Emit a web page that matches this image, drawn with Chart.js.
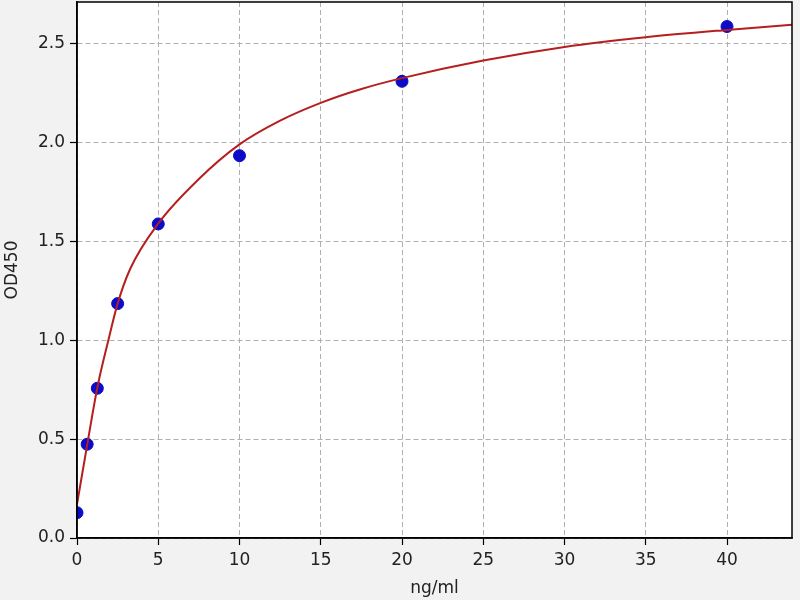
<!DOCTYPE html>
<html>
<head>
<meta charset="utf-8">
<script src="https://cdn.jsdelivr.net/npm/chart.js@4.4.1/dist/chart.umd.min.js"></script>
<style>
  html, body { margin: 0; padding: 0; background: #f2f2f2; }
  #wrap { width: 800px; height: 600px; }
</style>
</head>
<body>
<div id="wrap"><canvas id="chart" width="800" height="600"></canvas></div>
<script>
// standard points (ng/ml vs OD450)
const standardConc = [0, 0.625, 1.25, 2.5, 5, 10, 20, 40];
const standardOD = [0.128, 0.474, 0.757, 1.185, 1.588, 1.933, 2.309, 2.586];

// fitted curve
const curveConc = [0, 0.625, 1.25, 1.93, 2.5, 3.27, 5, 7.5, 10, 12.5, 15, 17.5, 20, 25, 30, 35, 40, 44];
const curveOD = [0.17, 0.47, 0.76, 1.0, 1.185, 1.36, 1.59, 1.815, 1.99, 2.11, 2.20, 2.27, 2.325, 2.414, 2.483, 2.532, 2.569, 2.595];

const xTicks = [0, 5, 10, 15, 20, 25, 30, 35, 40];
const yTicks = [0, 0.5, 1.0, 1.5, 2.0, 2.5];

const font = { family: 'DejaVu Sans', size: 17, lineHeight: 1.2 };

// white plot area and black frame like the original
const framePlugin = {
    id: 'frame',
    beforeDraw(chart) {
        const { ctx, chartArea: a } = chart;
        ctx.save();
        ctx.fillStyle = '#ffffff';
        ctx.fillRect(a.left, a.top, a.right - a.left, a.bottom - a.top);
        ctx.restore();
    },
    afterDraw(chart) {
        const { ctx, chartArea: a } = chart;
        ctx.save();
        ctx.strokeStyle = '#000000';
        ctx.lineWidth = 1.5;
        ctx.strokeRect(a.left, a.top, a.right - a.left, a.bottom - a.top);
        ctx.restore();
    }
};

function noPadding(scale) {
    scale.paddingTop = 0;
    scale.paddingBottom = 0;
    scale.paddingLeft = 0;
    scale.paddingRight = 0;
}

const ctx = document.getElementById('chart').getContext('2d');
new Chart(ctx, {
    type: 'scatter',
    data: {
        datasets: [
            {
                label: 'fit',
                data: curveConc.map((x, i) => ({ x: x, y: curveOD[i] })),
                showLine: true,
                borderColor: '#b51f1f',
                borderWidth: 2,
                pointRadius: 0,
                cubicInterpolationMode: 'monotone'
            },
            {
                label: 'standards',
                data: standardConc.map((x, i) => ({ x: x, y: standardOD[i] })),
                showLine: false,
                pointRadius: 6,
                pointBackgroundColor: '#0c0cc8',
                pointBorderColor: '#0c0cc8',
                pointBorderWidth: 1
            }
        ]
    },
    options: {
        responsive: false,
        animation: false,
        layout: { autoPadding: false, padding: { top: 2, right: 8, left: 0, bottom: 0 } },
        plugins: {
            legend: { display: false },
            tooltip: { enabled: false }
        },
        scales: {
            x: {
                type: 'linear',
                min: 0,
                max: 44,
                afterBuildTicks: scale => { scale.ticks = xTicks.map(v => ({ value: v })); },
                afterFit: scale => { scale.height = 62; noPadding(scale); },
                ticks: { font: font, color: '#222222', padding: 5, maxRotation: 0 },
                grid: { color: '#b0b0b0', lineWidth: 1, tickColor: '#000000', tickLength: 7, tickWidth: 1.2, tickBorderDash: [] },
                border: { display: true, color: '#000000', width: 1.5, dash: [5, 3] },
                title: { display: true, text: 'ng/ml', font: font, color: '#222222', padding: { top: 0, bottom: 1 } }
            },
            y: {
                type: 'linear',
                min: 0,
                max: 2.71,
                afterBuildTicks: scale => { scale.ticks = yTicks.map(v => ({ value: v })); },
                afterFit: scale => { scale.width = 77; noPadding(scale); },
                ticks: { font: font, color: '#222222', padding: 5, callback: v => v.toFixed(1) },
                grid: { color: '#b0b0b0', lineWidth: 1, tickColor: '#000000', tickLength: 7, tickWidth: 1.2, tickBorderDash: [] },
                border: { display: true, color: '#000000', width: 1.5, dash: [5, 3] },
                title: { display: true, text: 'OD450', font: font, color: '#222222', padding: { top: 2, bottom: 0 } }
            }
        }
    },
    plugins: [framePlugin]
});
</script>
</body>
</html>
